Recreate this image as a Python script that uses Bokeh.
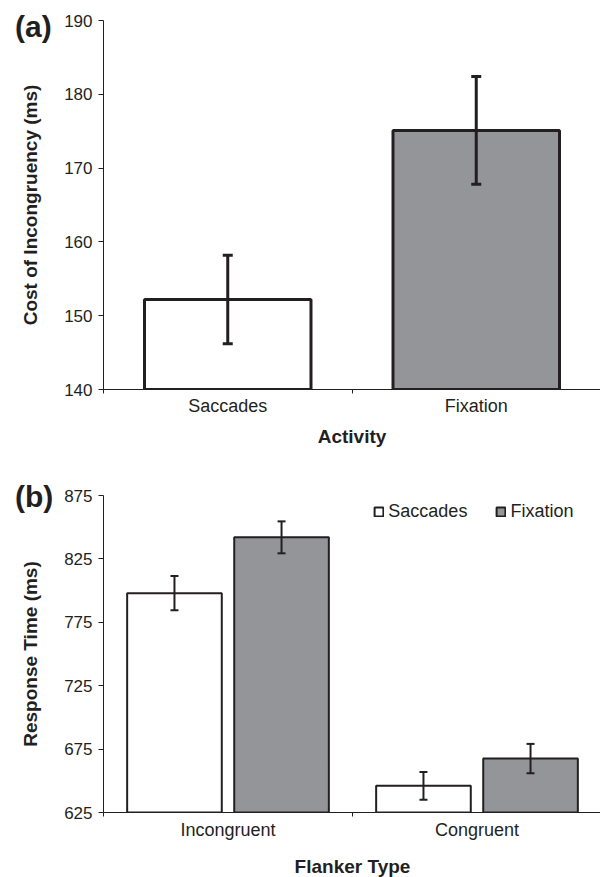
from bokeh.plotting import figure
from bokeh.layouts import column
from bokeh.models import (ColumnDataSource, FactorRange, Range1d, FixedTicker, LinearAxis,
                          CategoricalAxis, Whisker, TeeHead, Div)
from bokeh.transform import dodge
from bokeh.embed import file_html
from bokeh.resources import INLINE

FONT = "Liberation Sans"
INK = "#231f20"
GRAY = "#939598"
WHITE = "#ffffff"

# ---------------- data: panel (a) ----------------
activity = ["Saccades", "Fixation"]
cost_mean = [152.2, 175.1]
cost_err = [6.0, 7.3]
cost_ticks = [140, 150, 160, 170, 180, 190]

# ---------------- data: panel (b) ----------------
flanker = ["Incongruent", "Congruent"]
rt_saccades = [798.0, 646.0]
rt_saccades_err = [13.5, 11.0]
rt_fixation = [842.0, 667.5]
rt_fixation_err = [12.6, 11.6]
rt_ticks = [625, 675, 725, 775, 825, 875]
series = ["Saccades", "Fixation"]


def style_y(p, ticks, label):
    ax = p.yaxis[0]
    ax.ticker = FixedTicker(ticks=ticks)
    ax.axis_label = label
    ax.axis_label_text_font = FONT
    ax.axis_label_text_font_style = "bold"
    ax.axis_label_text_font_size = "19px"
    ax.axis_label_text_color = INK
    ax.axis_label_standoff = 20
    ax.major_label_text_font = FONT
    ax.major_label_text_font_size = "17px"
    ax.major_label_text_color = INK
    ax.major_label_standoff = 6
    ax.major_tick_out = 5
    ax.major_tick_in = 0
    ax.minor_tick_line_color = None
    ax.axis_line_color = INK
    ax.major_tick_line_color = INK


def add_x_axes(p, cats, title, label_standoff, title_standoff):
    # tick marks at the category boundaries (synthetic coordinates 0..n)
    edge = LinearAxis(ticker=FixedTicker(ticks=list(range(len(cats) + 1))))
    edge.major_label_text_font_size = "0px"
    edge.major_label_text_alpha = 0
    edge.major_label_standoff = 0
    edge.major_tick_out = 4
    edge.major_tick_in = 0
    edge.minor_tick_line_color = None
    edge.axis_line_color = INK
    edge.major_tick_line_color = INK
    p.add_layout(edge, "below")

    cat = CategoricalAxis()
    cat.axis_line_color = None
    cat.major_tick_line_color = None
    cat.major_tick_out = 0
    cat.major_tick_in = 0
    cat.major_label_standoff = label_standoff
    cat.major_label_text_font = FONT
    cat.major_label_text_font_size = "18px"
    cat.major_label_text_color = INK
    cat.axis_label = title
    cat.axis_label_text_font = FONT
    cat.axis_label_text_font_style = "bold"
    cat.axis_label_text_font_size = "19px"
    cat.axis_label_text_color = INK
    cat.axis_label_standoff = title_standoff
    p.add_layout(cat, "below")


def panel_label(text, left, top):
    return Div(text=text, styles={
        "position": "absolute", "left": f"{left}px", "top": f"{top}px",
        "font-family": FONT, "font-size": "30px", "font-weight": "bold",
        "color": INK, "line-height": "1", "margin": "0", "padding": "0",
        "z-index": "10"})


# ---------------- panel (a) ----------------
FH1 = 369
p1 = figure(x_range=FactorRange(*activity),
            y_range=Range1d(cost_ticks[0], cost_ticks[-1]),
            frame_width=497, frame_height=FH1,
            min_border_left=103, min_border_right=0, min_border_top=20, min_border_bottom=81,
            x_axis_location=None, output_backend="svg", toolbar_location=None)
p1.grid.visible = False
p1.outline_line_color = None

src1 = ColumnDataSource(dict(
    x=activity, top=cost_mean,
    upper=[m + e for m, e in zip(cost_mean, cost_err)],
    lower=[m - e for m, e in zip(cost_mean, cost_err)],
    fill=[WHITE, GRAY],
))
p1.vbar(x="x", top="top", bottom=cost_ticks[0], width=0.67, source=src1,
        fill_color="fill", line_color=INK, line_width=3)
p1.add_layout(Whisker(base="x", upper="upper", lower="lower", source=src1,
                      dimension="height", line_color=INK, line_width=3, level="overlay",
                      upper_head=TeeHead(size=10, line_color=INK, line_width=3),
                      lower_head=TeeHead(size=10, line_color=INK, line_width=3)))
style_y(p1, cost_ticks, "Cost of Incongruency (ms)")
add_x_axes(p1, activity, "Activity", 2, 7)

# ---------------- panel (b) ----------------
FH2 = 317
p2 = figure(x_range=FactorRange(*flanker),
            y_range=Range1d(rt_ticks[0], rt_ticks[-1]),
            frame_width=498, frame_height=FH2,
            min_border_left=102, min_border_right=0, min_border_top=25, min_border_bottom=65,
            x_axis_location=None, output_backend="svg", toolbar_location=None)
p2.grid.visible = False
p2.outline_line_color = None

src2 = ColumnDataSource(dict(
    x=flanker, sac=rt_saccades, fix=rt_fixation,
    sac_up=[m + e for m, e in zip(rt_saccades, rt_saccades_err)],
    sac_lo=[m - e for m, e in zip(rt_saccades, rt_saccades_err)],
    fix_up=[m + e for m, e in zip(rt_fixation, rt_fixation_err)],
    fix_lo=[m - e for m, e in zip(rt_fixation, rt_fixation_err)],
))
OFF = 0.215
p2.vbar(x=dodge("x", -OFF, range=p2.x_range), top="sac", bottom=rt_ticks[0], width=0.38,
        source=src2, fill_color=WHITE, line_color=INK, line_width=2, legend_label=series[0])
p2.vbar(x=dodge("x", OFF, range=p2.x_range), top="fix", bottom=rt_ticks[0], width=0.38,
        source=src2, fill_color=GRAY, line_color=INK, line_width=2, legend_label=series[1])
for off, up, lo in ((-OFF, "sac_up", "sac_lo"), (OFF, "fix_up", "fix_lo")):
    p2.add_layout(Whisker(base=dodge("x", off, range=p2.x_range), upper=up, lower=lo,
                          source=src2, dimension="height", line_color=INK, line_width=2,
                          level="overlay",
                          upper_head=TeeHead(size=8, line_color=INK, line_width=2),
                          lower_head=TeeHead(size=8, line_color=INK, line_width=2)))
style_y(p2, rt_ticks, "Response Time (ms)")
add_x_axes(p2, flanker, "Flanker Type", 3, 13)

lg = p2.legend[0]
lg.orientation = "horizontal"
lg.location = (282, FH2 - 27)
lg.background_fill_alpha = 0
lg.border_line_alpha = 0
lg.padding = 0
lg.margin = 0
lg.spacing = 28
lg.glyph_width = 11
lg.glyph_height = 11
lg.label_standoff = 4
lg.label_text_font = FONT
lg.label_text_font_size = "18px"
lg.label_text_color = INK

layout = column(p1, p2, panel_label("(a)", 15, 12), panel_label("(b)", 15, 482))
open("out.html", "w").write(file_html(layout, INLINE))
